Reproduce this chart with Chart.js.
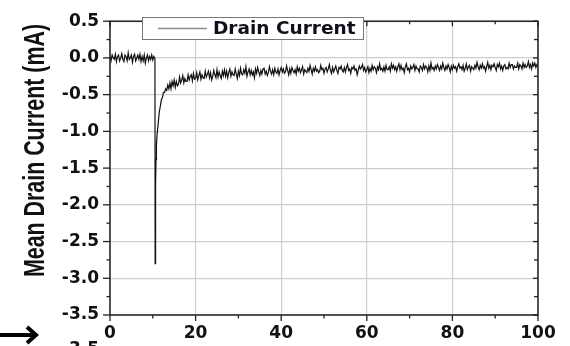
<!DOCTYPE html>
<html>
<head>
<meta charset="utf-8">
<script src="https://cdn.jsdelivr.net/npm/chart.js@4.4.1/dist/chart.umd.min.js"></script>
<style>
  html, body { margin: 0; padding: 0; background: #fff; }
</style>
</head>
<body>
<canvas id="drainChart" width="570" height="346"></canvas>
<script>
// sample times (s) and mean drain current (mA)
const timeS = [
  0, 0.25, 0.5, 0.75, 1, 1.25, 1.5, 1.75, 2, 2.25, 2.5, 2.75, 3, 3.25, 3.5, 3.75,
  4, 4.25, 4.5, 4.75, 5, 5.25, 5.5, 5.75, 6, 6.25, 6.5, 6.75, 7, 7.25, 7.5, 7.75,
  8, 8.25, 8.5, 8.75, 9, 9.25, 9.5, 9.75, 10, 10.25, 10.5,
  10.55, 10.65, 10.75, 10.85, 11, 11.25, 11.5, 11.75, 12, 12.25, 12.5, 12.75, 13, 13.25, 13.5, 13.75,
  14, 14.25, 14.5, 14.75, 15, 15.25, 15.5, 15.75,
  16, 16.25, 16.5, 16.75, 17, 17.25, 17.5, 17.75,
  18, 18.25, 18.5, 18.75, 19, 19.25, 19.5, 19.75,
  20, 20.25, 20.5, 20.75, 21, 21.25, 21.5, 21.75,
  22, 22.25, 22.5, 22.75, 23, 23.25, 23.5, 23.75,
  24, 24.25, 24.5, 24.75, 25, 25.25, 25.5, 25.75,
  26, 26.25, 26.5, 26.75, 27, 27.25, 27.5, 27.75,
  28, 28.25, 28.5, 28.75, 29, 29.25, 29.5, 29.75,
  30, 30.25, 30.5, 30.75, 31, 31.25, 31.5, 31.75,
  32, 32.25, 32.5, 32.75, 33, 33.25, 33.5, 33.75,
  34, 34.25, 34.5, 34.75, 35, 35.25, 35.5, 35.75,
  36, 36.25, 36.5, 36.75, 37, 37.25, 37.5, 37.75,
  38, 38.25, 38.5, 38.75, 39, 39.25, 39.5, 39.75,
  40, 40.25, 40.5, 40.75, 41, 41.25, 41.5, 41.75,
  42, 42.25, 42.5, 42.75, 43, 43.25, 43.5, 43.75,
  44, 44.25, 44.5, 44.75, 45, 45.25, 45.5, 45.75,
  46, 46.25, 46.5, 46.75, 47, 47.25, 47.5, 47.75,
  48, 48.25, 48.5, 48.75, 49, 49.25, 49.5, 49.75,
  50, 50.25, 50.5, 50.75, 51, 51.25, 51.5, 51.75,
  52, 52.25, 52.5, 52.75, 53, 53.25, 53.5, 53.75,
  54, 54.25, 54.5, 54.75, 55, 55.25, 55.5, 55.75,
  56, 56.25, 56.5, 56.75, 57, 57.25, 57.5, 57.75,
  58, 58.25, 58.5, 58.75, 59, 59.25, 59.5, 59.75,
  60, 60.25, 60.5, 60.75, 61, 61.25, 61.5, 61.75,
  62, 62.25, 62.5, 62.75, 63, 63.25, 63.5, 63.75,
  64, 64.25, 64.5, 64.75, 65, 65.25, 65.5, 65.75,
  66, 66.25, 66.5, 66.75, 67, 67.25, 67.5, 67.75,
  68, 68.25, 68.5, 68.75, 69, 69.25, 69.5, 69.75,
  70, 70.25, 70.5, 70.75, 71, 71.25, 71.5, 71.75,
  72, 72.25, 72.5, 72.75, 73, 73.25, 73.5, 73.75,
  74, 74.25, 74.5, 74.75, 75, 75.25, 75.5, 75.75,
  76, 76.25, 76.5, 76.75, 77, 77.25, 77.5, 77.75,
  78, 78.25, 78.5, 78.75, 79, 79.25, 79.5, 79.75,
  80, 80.25, 80.5, 80.75, 81, 81.25, 81.5, 81.75,
  82, 82.25, 82.5, 82.75, 83, 83.25, 83.5, 83.75,
  84, 84.25, 84.5, 84.75, 85, 85.25, 85.5, 85.75,
  86, 86.25, 86.5, 86.75, 87, 87.25, 87.5, 87.75,
  88, 88.25, 88.5, 88.75, 89, 89.25, 89.5, 89.75,
  90, 90.25, 90.5, 90.75, 91, 91.25, 91.5, 91.75,
  92, 92.25, 92.5, 92.75, 93, 93.25, 93.5, 93.75,
  94, 94.25, 94.5, 94.75, 95, 95.25, 95.5, 95.75,
  96, 96.25, 96.5, 96.75, 97, 97.25, 97.5, 97.75,
  98, 98.25, 98.5, 98.75, 99, 99.25, 99.5, 99.75,
  100
];

const currentMA = [
  0.02, -0.04, 0.04, 0.00, -0.02, 0.05, -0.05, 0.02, 0.04, -0.04, 0.00, 0.06, -0.02, -0.05, 0.04, 0.02,
  -0.04, 0.07, -0.02, 0.00, 0.04, -0.06, 0.02, 0.05, -0.04, 0.00, 0.04, -0.02, 0.05, -0.05, 0.02, -0.04,
  0.04, -0.07, 0.00, 0.04, -0.04, 0.02, -0.02, 0.04, -0.03, 0.02, -0.01,
  -2.80, -1.72, -1.38, -1.18, -1.04, -0.90, -0.74, -0.66, -0.57, -0.54, -0.47, -0.47, -0.42, -0.44, -0.37, -0.42,
  -0.34, -0.42, -0.32, -0.38, -0.30, -0.40, -0.32, -0.38,
  -0.36, -0.26, -0.34, -0.30, -0.24, -0.34, -0.28, -0.32,
  -0.32, -0.23, -0.30, -0.25, -0.23, -0.31, -0.21, -0.29,
  -0.28, -0.20, -0.30, -0.24, -0.19, -0.29, -0.23, -0.27,
  -0.28, -0.18, -0.26, -0.22, -0.18, -0.27, -0.20, -0.30,
  -0.25, -0.17, -0.23, -0.27, -0.16, -0.26, -0.19, -0.24,
  -0.28, -0.18, -0.24, -0.16, -0.25, -0.18, -0.27, -0.20,
  -0.15, -0.25, -0.19, -0.23, -0.24, -0.15, -0.22, -0.28,
  -0.18, -0.24, -0.14, -0.22, -0.23, -0.16, -0.21, -0.12,
  -0.25, -0.19, -0.15, -0.23, -0.17, -0.23, -0.19, -0.27,
  -0.15, -0.21, -0.13, -0.19, -0.24, -0.17, -0.22, -0.15,
  -0.14, -0.22, -0.18, -0.24, -0.20, -0.12, -0.18, -0.22,
  -0.16, -0.23, -0.14, -0.19, -0.21, -0.15, -0.23, -0.17,
  -0.13, -0.19, -0.15, -0.21, -0.19, -0.11, -0.17, -0.23,
  -0.15, -0.21, -0.13, -0.17, -0.20, -0.16, -0.22, -0.12,
  -0.18, -0.14, -0.20, -0.16, -0.12, -0.22, -0.16, -0.18,
  -0.20, -0.14, -0.18, -0.10, -0.16, -0.22, -0.14, -0.18,
  -0.12, -0.18, -0.16, -0.20, -0.18, -0.10, -0.16, -0.14,
  -0.21, -0.15, -0.13, -0.19, -0.15, -0.09, -0.17, -0.21,
  -0.13, -0.19, -0.15, -0.11, -0.17, -0.21, -0.13, -0.15,
  -0.11, -0.17, -0.19, -0.13, -0.19, -0.13, -0.09, -0.17,
  -0.15, -0.21, -0.13, -0.15, -0.11, -0.17, -0.15, -0.23,
  -0.17, -0.11, -0.15, -0.13, -0.09, -0.17, -0.13, -0.19,
  -0.16, -0.12, -0.20, -0.14, -0.18, -0.10, -0.16, -0.12,
  -0.14, -0.20, -0.12, -0.16, -0.08, -0.16, -0.14, -0.18,
  -0.12, -0.18, -0.10, -0.16, -0.16, -0.12, -0.18, -0.08,
  -0.14, -0.10, -0.16, -0.12, -0.18, -0.12, -0.08, -0.16,
  -0.10, -0.16, -0.14, -0.20, -0.12, -0.08, -0.16, -0.14,
  -0.19, -0.11, -0.15, -0.13, -0.09, -0.17, -0.11, -0.15,
  -0.15, -0.19, -0.11, -0.13, -0.17, -0.09, -0.15, -0.11,
  -0.13, -0.19, -0.11, -0.17, -0.07, -0.15, -0.13, -0.17,
  -0.11, -0.15, -0.09, -0.13, -0.17, -0.11, -0.15, -0.07,
  -0.13, -0.17, -0.11, -0.15, -0.09, -0.13, -0.19, -0.11,
  -0.16, -0.10, -0.14, -0.12, -0.18, -0.12, -0.08, -0.14,
  -0.12, -0.16, -0.10, -0.18, -0.14, -0.08, -0.16, -0.12,
  -0.10, -0.18, -0.12, -0.14, -0.16, -0.10, -0.14, -0.06,
  -0.12, -0.16, -0.10, -0.14, -0.08, -0.14, -0.12, -0.18,
  -0.12, -0.06, -0.14, -0.10, -0.16, -0.10, -0.12, -0.08,
  -0.13, -0.17, -0.09, -0.12, -0.07, -0.15, -0.11, -0.17,
  -0.11, -0.09, -0.15, -0.13, -0.15, -0.07, -0.13, -0.09,
  -0.09, -0.15, -0.11, -0.13, -0.13, -0.07, -0.15, -0.09,
  -0.11, -0.15, -0.07, -0.13, -0.09, -0.13, -0.11, -0.05,
  -0.13, -0.09, -0.15, -0.07, -0.11, -0.07, -0.13, -0.09,
  -0.11
];

const seriesLabel = 'Drain Current';
const yTitle = 'Mean Drain Current (mA)';

const xMajor = [0, 20, 40, 60, 80, 100];
const xMinor = [10, 30, 50, 70, 90];
const yMajor = [0.5, 0.0, -0.5, -1.0, -1.5, -2.0, -2.5, -3.0, -3.5];
const yMinor = [0.25, -0.25, -0.75, -1.25, -1.75, -2.25, -2.75, -3.25];

const tickFont = { family: 'DejaVu Sans', weight: 'bold', size: 17 };
const ink = '#111';

// frame, ticks on all four sides, inset legend, rotated axis title
const decorations = {
  id: 'decorations',
  afterDatasetsDraw(chart) {
    const { ctx, chartArea: a, scales: { x, y } } = chart;
    ctx.save();

    ctx.strokeStyle = '#222';
    ctx.lineWidth = 1.5;
    ctx.strokeRect(a.left, a.top, a.right - a.left, a.bottom - a.top);

    const seg = (x1, y1, x2, y2) => {
      ctx.beginPath();
      ctx.moveTo(x1, y1);
      ctx.lineTo(x2, y2);
      ctx.stroke();
    };
    ctx.lineWidth = 1.3;
    xMajor.forEach(v => {
      const px = x.getPixelForValue(v);
      seg(px, a.bottom, px, a.bottom + 6);
      seg(px, a.top, px, a.top + 5);
    });
    xMinor.forEach(v => {
      const px = x.getPixelForValue(v);
      seg(px, a.bottom, px, a.bottom + 3.5);
      seg(px, a.top, px, a.top + 3);
    });
    yMajor.forEach(v => {
      const py = y.getPixelForValue(v);
      seg(a.left - 7, py, a.left, py);
      seg(a.right - 5, py, a.right, py);
    });
    yMinor.forEach(v => {
      const py = y.getPixelForValue(v);
      seg(a.left - 3.5, py, a.left, py);
      seg(a.right - 4, py, a.right, py);
    });

    // legend box
    ctx.fillStyle = '#fff';
    ctx.fillRect(142, 17, 222, 23);
    ctx.strokeStyle = '#777';
    ctx.lineWidth = 1;
    ctx.strokeRect(142.5, 17.5, 221, 22);
    ctx.strokeStyle = '#8c8c8c';
    ctx.lineWidth = 1.5;
    seg(158, 28.5, 207, 28.5);
    ctx.fillStyle = '#10101c';
    ctx.font = 'bold 18.5px "DejaVu Sans"';
    ctx.textAlign = 'left';
    ctx.textBaseline = 'middle';
    ctx.fillText(chart.data.datasets[0].label, 213, 29.5);

    // y axis title
    ctx.save();
    ctx.translate(36, 150.5);
    ctx.rotate(-Math.PI / 2);
    ctx.scale(1, 1.4);
    ctx.fillStyle = ink;
    ctx.font = 'bold 21.4px "Liberation Sans"';
    ctx.textAlign = 'center';
    ctx.textBaseline = 'middle';
    ctx.fillText(yTitle, 0, 0);
    ctx.restore();

    // arrow and clipped label at the lower left
    ctx.strokeStyle = '#000';
    ctx.lineWidth = 4;
    ctx.lineCap = 'butt';
    seg(0, 335, 35, 335);
    ctx.lineJoin = 'miter';
    ctx.beginPath();
    ctx.moveTo(27, 327);
    ctx.lineTo(36, 335);
    ctx.lineTo(27, 343);
    ctx.stroke();
    ctx.fillStyle = ink;
    ctx.font = 'bold 17px "DejaVu Sans"';
    ctx.textAlign = 'right';
    ctx.textBaseline = 'alphabetic';
    ctx.fillText('-3.5', 99, 353.5);

    ctx.restore();
  }
};

new Chart(document.getElementById('drainChart'), {
  type: 'line',
  data: {
    datasets: [{
      label: seriesLabel,
      data: timeS.map((t, i) => ({ x: t, y: currentMA[i] })),
      borderColor: '#111',
      borderWidth: 1.2,
      pointRadius: 0,
      tension: 0
    }]
  },
  options: {
    responsive: false,
    animation: false,
    devicePixelRatio: 1,
    layout: { padding: { top: 13, right: 32, bottom: 0, left: 0 } },
    plugins: {
      legend: { display: false },
      tooltip: { enabled: false }
    },
    scales: {
      x: {
        type: 'linear',
        min: 0,
        max: 100,
        afterBuildTicks: s => { s.ticks = xMajor.map(v => ({ value: v })); },
        afterFit: s => { s.height = 31; },
        ticks: { font: tickFont, color: ink, padding: 8, maxRotation: 0, callback: v => String(v) },
        grid: { color: '#cfcfcf', lineWidth: 1.2, drawTicks: false },
        border: { display: false }
      },
      y: {
        type: 'linear',
        min: -3.5,
        max: 0.5,
        afterBuildTicks: s => { s.ticks = yMajor.map(v => ({ value: v })); },
        afterFit: s => { s.width = 110; },
        ticks: { font: tickFont, color: ink, padding: 11, callback: v => v.toFixed(1) },
        grid: { color: '#cfcfcf', lineWidth: 1.2, drawTicks: false },
        border: { display: false }
      }
    }
  },
  plugins: [decorations]
});
</script>
</body>
</html>
